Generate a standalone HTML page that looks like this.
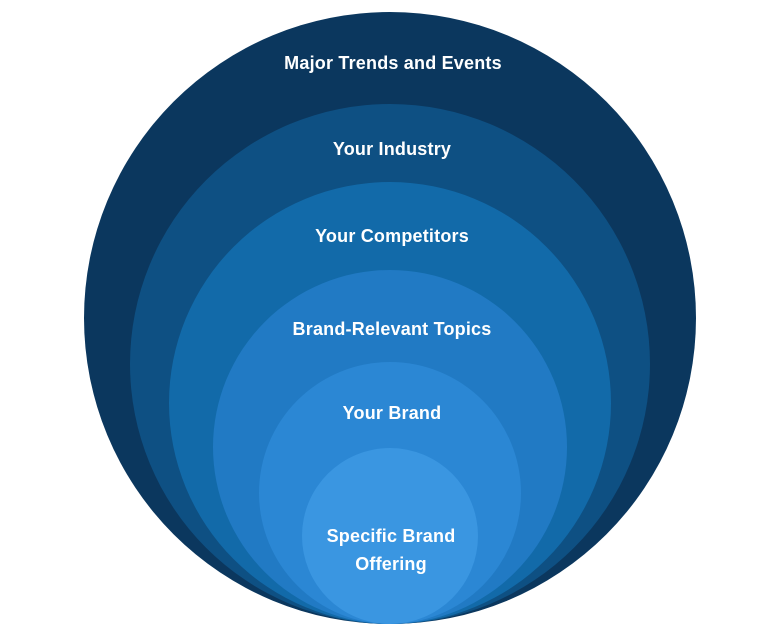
<!DOCTYPE html>
<html><head><style>
body{margin:0;background:#fff;}
svg text{font-family:"Liberation Sans",sans-serif;font-weight:bold;fill:#fff;font-size:18px;letter-spacing:0.2px;text-anchor:middle;}
</style></head><body>
<svg width="780" height="636" viewBox="0 0 780 636">
<circle cx="390" cy="318" r="306" fill="#0b375e"/>
<circle cx="390" cy="364" r="260" fill="#0e5083"/>
<circle cx="390" cy="403" r="221" fill="#126aa9"/>
<circle cx="390" cy="447" r="177" fill="#217ac4"/>
<circle cx="390" cy="493" r="131" fill="#2b87d4"/>
<circle cx="390" cy="536" r="88" fill="#3a96e1"/>
<text x="393" y="69">Major Trends and Events</text>
<text x="392" y="155">Your Industry</text>
<text x="392" y="242">Your Competitors</text>
<text x="392" y="335">Brand-Relevant Topics</text>
<text x="392" y="419">Your Brand</text>
<text x="391" y="542">Specific Brand</text>
<text x="391" y="570">Offering</text>
</svg>
</body></html>
